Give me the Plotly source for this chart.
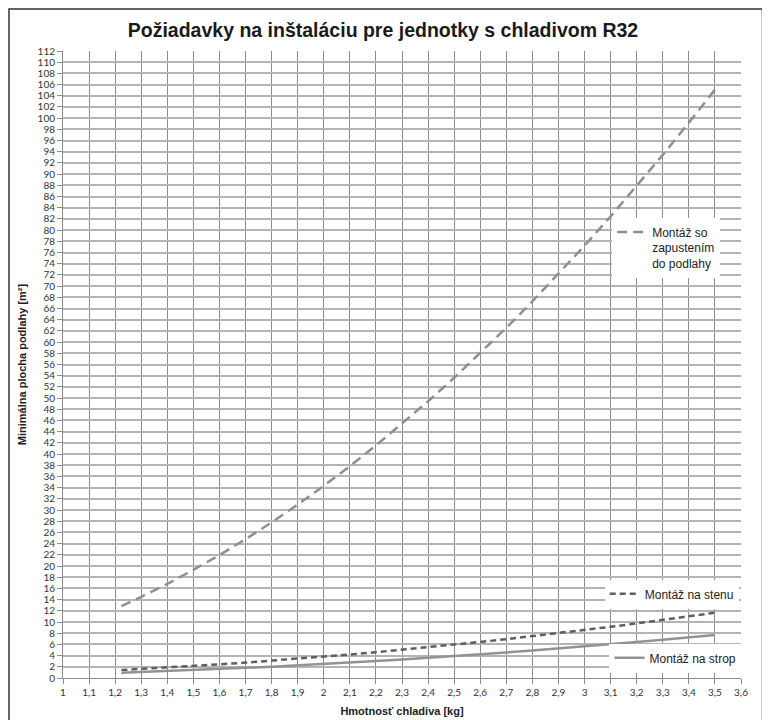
import plotly.graph_objects as go

mass = [1.224, 1.3, 1.4, 1.5, 1.6, 1.7, 1.8, 1.9, 2.0, 2.1, 2.2, 2.3, 2.4, 2.5,
        2.6, 2.7, 2.8, 2.9, 3.0, 3.1, 3.2, 3.3, 3.4, 3.5]
floor_area = [12.85, 14.50, 16.82, 19.31, 21.96, 24.80, 27.80, 30.97, 34.32, 37.84,
              41.53, 45.39, 49.42, 53.63, 58.00, 62.55, 67.27, 72.16, 77.22, 82.45,
              87.86, 93.44, 99.18, 105.1]
wall_area = [1.43, 1.61, 1.87, 2.14, 2.44, 2.75, 3.08, 3.44, 3.81, 4.20, 4.61, 5.04,
             5.48, 5.95, 6.44, 6.94, 7.46, 8.01, 8.57, 9.15, 9.75, 10.37, 11.01, 11.66]
ceiling_area = [0.94, 1.06, 1.23, 1.41, 1.61, 1.81, 2.03, 2.26, 2.51, 2.77, 3.03, 3.32,
                3.61, 3.92, 4.24, 4.57, 4.92, 5.27, 5.64, 6.03, 6.42, 6.83, 7.25, 7.68]

x_ticks = [round(1 + 0.1 * i, 1) for i in range(27)]
x_labels = [("%g" % v).replace(".", ",") for v in x_ticks]
y_ticks = list(range(0, 113, 2))

title = "Požiadavky na inštaláciu pre jednotky s chladivom R32"
x_title = "Hmotnosť chladiva [kg]"
y_title = "Minimálna plocha podlahy [m²]"
names = ["Montáž so<br>zapustením<br>do podlahy", "Montáž na stenu", "Montáž na strop"]

fig = go.Figure()
fig.add_trace(go.Scatter(x=mass, y=floor_area, mode="lines", name=names[0],
                         line=dict(color="#8f8f8f", width=2.5, dash="10px,6px"),
                         legend="legend"))
fig.add_trace(go.Scatter(x=mass, y=wall_area, mode="lines", name=names[1],
                         line=dict(color="#5f5f5f", width=2.5, dash="6px,4px"),
                         legend="legend2"))
fig.add_trace(go.Scatter(x=mass, y=ceiling_area, mode="lines", name=names[2],
                         line=dict(color="#939393", width=2.5),
                         legend="legend3"))

legfont = dict(family="Liberation Sans, Arial, sans-serif", size=12, color="#222222")
common = dict(bgcolor="white", borderwidth=0, font=legfont, xanchor="left",
              yanchor="top", itemwidth=30, valign="top", tracegroupgap=0)

# page body has an 8px offset, so the figure origin sits at screen (8, 8)
W, H = 770, 720
pl, pt = 55, 43
pr = W - (741 - 8)
pb = H - (678 - 8)

fig.update_layout(
    width=W, height=H,
    margin=dict(l=pl, r=pr, t=pt, b=pb, autoexpand=False),
    paper_bgcolor="white", plot_bgcolor="white",
    title=dict(text="<b>" + title + "</b>", x=(383 - 8) / W, xanchor="center", y=1 - 22 / H,
               yanchor="middle",
               font=dict(family="Liberation Sans, Arial, sans-serif", size=19.5, color="#1a1a1a")),
    showlegend=True,
    legend=dict(x=0.810, y=0.734, **common),
    legend2=dict(x=0.799, y=0.157, **common),
    legend3=dict(x=0.806, y=0.055, **common),
    xaxis=dict(range=[1, 3.6], tickvals=x_ticks, ticktext=x_labels, automargin=False,
               showgrid=True, gridcolor="#8c8c8c", gridwidth=1,
               zeroline=False, showline=True, linecolor="#8c8c8c",
               ticks="outside", ticklen=5, tickcolor="#8c8c8c",
               tickfont=dict(family="Lato, Open Sans, sans-serif", size=10, color="#333333"),
               title=dict(text="<b>" + x_title + "</b>", standoff=10,
                          font=dict(family="Liberation Sans, Arial, sans-serif", size=11, color="#222222"))),
    yaxis=dict(range=[0, 112], tickvals=y_ticks, automargin=False,
               showgrid=True, gridcolor="#b4b4b4", gridwidth=1.5,
               zeroline=False, showline=True, linecolor="#8c8c8c",
               ticks="outside", ticklen=5, tickcolor="#8c8c8c",
               tickfont=dict(family="Lato, Open Sans, sans-serif", size=10, color="#333333"),
               title=dict(text="<b>" + y_title + "</b>", standoff=8,
                          font=dict(family="Liberation Sans, Arial, sans-serif", size=11, color="#222222"))),
)

pw, ph = W - pl - pr, H - pt - pb
fig.add_shape(type="rect", xref="paper", yref="paper",
              x0=(1 - pl) / pw, x1=(754.5 - pl) / pw,
              y0=(H - pb - 740) / ph, y1=(H - pb - 1) / ph,
              line=dict(color="#333333", width=1.5), fillcolor="rgba(0,0,0,0)", layer="below")

fig.write_html("out.html")
